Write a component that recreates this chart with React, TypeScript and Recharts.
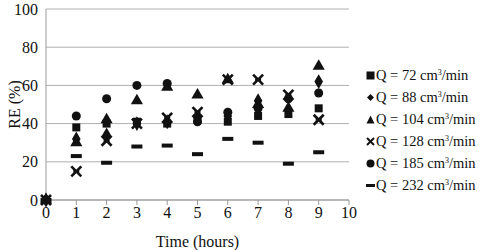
import { ScatterChart, Scatter, XAxis, YAxis, ZAxis, CartesianGrid } from 'recharts';

const hours = [0, 1, 2, 3, 4, 5, 6, 7, 8, 9];
const xTicks = [0, 1, 2, 3, 4, 5, 6, 7, 8, 9, 10];
const yTicks = [0, 20, 40, 60, 80, 100];

const q72 = [0, 38, 40, 41, 40, 42, 41, 44, 45, 48];
const q88 = [0, 32, 34, 40, 41, 43, 44, 52, 47, 62];
const q104 = [0, 30, 42, 52, 59, 55, 63, 50, 48, 70];
const q128 = [0, 15, 31, 40, 43, 46, 63, 63, 55, 42];
const q185 = [0, 44, 53, 60, 61, 41, 46, 48, 53, 56];
const q232 = [0, 23, 19.5, 28, 28.5, 24, 32, 30, 19, 25];

const toPoints = (vals: number[]) => hours.map((h, i) => ({ x: h, y: vals[i] }));

const INK = '#111';
const FONT = '"Liberation Serif", "DejaVu Serif", serif';

// custom marks for the two shapes recharts doesn't have
const XMark = (props: any) => {
  const { cx, cy } = props;
  const s = 5;
  return (
    <g stroke={INK} strokeWidth={2.6}>
      <line x1={cx - s} y1={cy - s} x2={cx + s} y2={cy + s} />
      <line x1={cx - s} y1={cy + s} x2={cx + s} y2={cy - s} />
      <line x1={cx - 3} y1={cy} x2={cx + 3} y2={cy} />
    </g>
  );
};

const DashMark = (props: any) => {
  const { cx, cy } = props;
  return <rect x={cx - 5.5} y={cy - 2} width={11} height={4} fill={INK} />;
};

const series = [
  { name: '72', data: q72, shape: 'square' as const, icon: 'square' },
  { name: '88', data: q88, shape: 'diamond' as const, icon: 'diamond' },
  { name: '104', data: q104, shape: 'triangle' as const, icon: 'triangle' },
  { name: '128', data: q128, shape: XMark, icon: 'x' },
  { name: '185', data: q185, shape: 'circle' as const, icon: 'circle' },
  { name: '232', data: q232, shape: DashMark, icon: 'dash' },
];

function LegendIcon({ kind }: { kind: string }) {
  return (
    <svg width={9} height={9} style={{ marginRight: 1 }}>
      {kind === 'square' && <rect x={0.5} y={0.5} width={8} height={8} fill={INK} />}
      {kind === 'diamond' && <polygon points="4.5,1 8,4.5 4.5,8 1,4.5" fill={INK} />}
      {kind === 'triangle' && <polygon points="4.5,0.5 8.5,8.5 0.5,8.5" fill={INK} />}
      {kind === 'x' && (
        <g stroke={INK} strokeWidth={2}>
          <line x1={1} y1={1} x2={8} y2={8} />
          <line x1={1} y1={8} x2={8} y2={1} />
        </g>
      )}
      {kind === 'circle' && <circle cx={4.5} cy={4.5} r={4} fill={INK} />}
      {kind === 'dash' && <rect x={0} y={3} width={9} height={3} fill={INK} />}
    </svg>
  );
}

export default function App() {
  return (
    <div style={{ position: 'absolute', left: 0, top: 0, width: 481, height: 250, background: '#fff' }}>
      <ScatterChart width={481} height={250} margin={{ top: 9, right: 132, left: 0, bottom: 0 }}>
        <CartesianGrid vertical={false} stroke="#b0b0b0" />
        <XAxis
          type="number"
          dataKey="x"
          domain={[0, 10]}
          ticks={xTicks}
          height={50}
          stroke="#999"
          tickSize={5}
          tick={{ fill: INK, fontSize: 16, fontFamily: FONT }}
          label={{ value: 'Time (hours)', position: 'insideBottom', offset: 3, fill: INK, fontSize: 16, fontFamily: FONT }}
        />
        <YAxis
          type="number"
          dataKey="y"
          domain={[0, 100]}
          ticks={yTicks}
          width={46}
          stroke="#999"
          tickLine={false}
          tickMargin={2}
          tick={{ fill: INK, fontSize: 16, fontFamily: FONT }}
          label={{ value: 'RE (%)', angle: -90, position: 'insideLeft', offset: 14, fill: INK, fontSize: 16, fontFamily: FONT, style: { textAnchor: 'middle' } }}
        />
        <ZAxis range={[95, 95]} />
        {series.map((s) => (
          <Scatter
            key={s.name}
            name={s.name}
            data={toPoints(s.data)}
            fill={INK}
            shape={s.shape}
            isAnimationActive={false}
          />
        ))}
      </ScatterChart>
      <div style={{ position: 'absolute', left: 366, top: 64, fontFamily: FONT, fontSize: 14.5, color: INK }}>
        {series.map((s) => (
          <div key={s.name} style={{ display: 'flex', alignItems: 'center', height: 22, whiteSpace: 'nowrap' }}>
            <LegendIcon kind={s.icon} />
            <span>
              Q = {s.name} cm<sup style={{ fontSize: 8, verticalAlign: 'top', lineHeight: '12px' }}>3</sup>/min
            </span>
          </div>
        ))}
      </div>
    </div>
  );
}
